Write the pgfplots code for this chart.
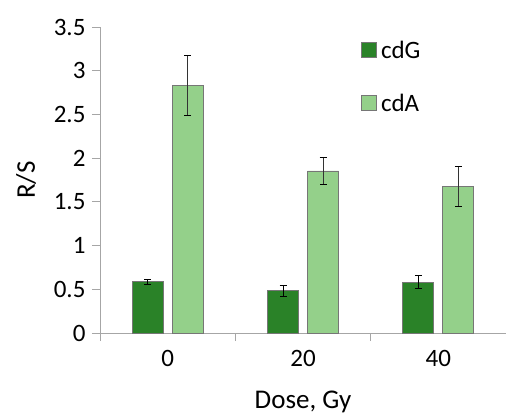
\documentclass[border=0pt]{standalone}
\usepackage{fontspec}
\setmainfont{Carlito}
\usepackage{pgfplots}
\pgfplotsset{compat=1.18}
\definecolor{cdg}{HTML}{2A8228}
\definecolor{cda}{HTML}{94D08A}
\definecolor{axgray}{HTML}{A6A6A6}
\definecolor{bargray}{HTML}{767676}
\begin{document}
\begin{tikzpicture}
\begin{axis}[
  at={(0,0)}, anchor=south west,
  scale only axis,
  width=406pt, height=306pt,
  xmin=-0.5, xmax=2.5,
  ymin=0, ymax=3.5,
  axis x line*=bottom, axis y line*=left,
  axis line style={axgray, line width=0.8pt, -},
  xtick={-0.5,0.5,1.5,2.5}, xticklabels={},
  extra x ticks={0,1,2}, extra x tick labels={0,20,40},
  extra x tick style={major tick length=0pt},
  ytick={0,0.5,...,3.5},
  yticklabels={0,0.5,1,1.5,2,2.5,3,3.5},
  tick align=outside,
  major tick length=8pt,
  tick style={axgray, line width=0.8pt},
  tick label style={font=\fontsize{25}{30}\selectfont, black},
  yticklabel style={xshift=-3pt},
  xticklabel style={yshift=-14pt},
  /pgf/number format/assume math mode=true,
  xlabel={Dose, Gy}, ylabel={R/S},
  label style={font=\fontsize{27}{32}\selectfont},
  xlabel style={yshift=-9pt},
  ylabel style={yshift=11pt},
  ybar, bar width=31pt,
  legend style={at={(258pt,296pt)}, anchor=north west, draw=none, fill=none,
    font=\fontsize{25}{30}\selectfont, row sep=30pt, legend cell align=left,
    nodes={inner xsep=4pt}},
  legend image code/.code={\draw[#1] (0pt,-7pt) rectangle (15pt,8pt);},
]
\addplot[fill=cdg, draw=bargray, line width=0.8pt, bar shift=-20pt,
  error bars/.cd, y dir=both, y explicit,
  error bar style={black, line width=0.8pt},
  error mark options={rotate=90, mark size=3.5pt, black, line width=0.8pt}]
  coordinates {(0,0.587) +- (0,0.03) (1,0.484) +- (0,0.065) (2,0.58) +- (0,0.075)};
\addplot[fill=cda, draw=bargray, line width=0.8pt, bar shift=20pt,
  error bars/.cd, y dir=both, y explicit,
  error bar style={black!80, line width=0.8pt},
  error mark options={rotate=90, mark size=3.5pt, black, line width=0.8pt}]
  coordinates {(0,2.834) +- (0,0.34) (1,1.853) +- (0,0.15) (2,1.68) +- (0,0.23)};
\legend{cdG, cdA}
\end{axis}
\pgfresetboundingbox
\path (-100pt,-83pt) rectangle (406pt,333pt);
\end{tikzpicture}
\end{document}
